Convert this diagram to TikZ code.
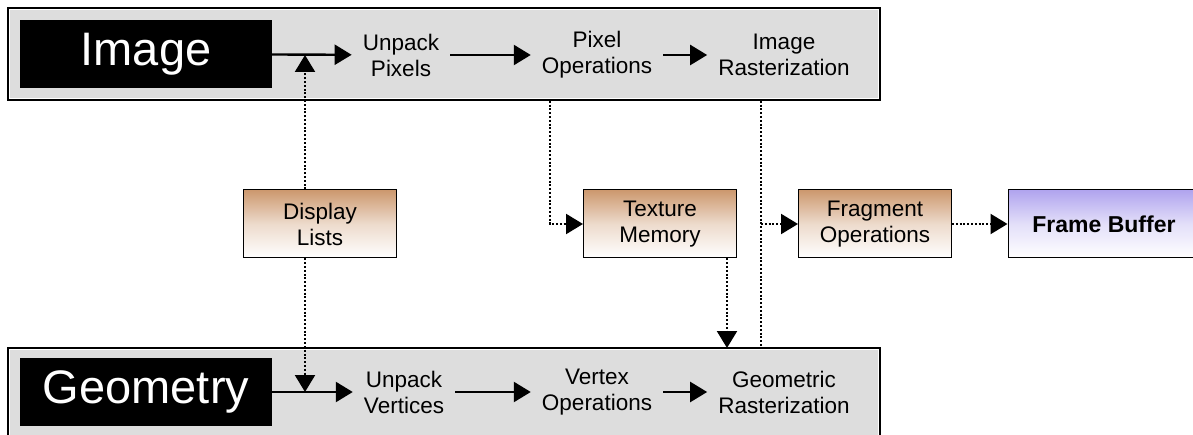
\documentclass[tikz,border=0pt]{standalone}
\usepackage{fontspec}
\setmainfont{Liberation Sans}
\usetikzlibrary{arrows.meta,positioning}
\definecolor{panelgray}{RGB}{221,221,221}
\definecolor{tanbox}{RGB}{204,152,110}
\definecolor{lilac}{RGB}{176,164,238}
\tikzset{
	panel/.style={draw=black, line width=1.6pt, fill=panelgray, minimum width=872pt, minimum height=92pt, inner sep=0pt},
	titlebox/.style={fill=black, text=white, minimum width=252pt, minimum height=68pt, font=\fontsize{47}{47}\selectfont},
	stage/.style={align=center, inner xsep=11pt, inner ysep=2pt, font=\fontsize{22.5}{26}\selectfont},
	store/.style={draw=black, line width=1pt, align=center, minimum width=153pt, minimum height=68pt, font=\fontsize{22.5}{26}\selectfont, top color=tanbox, bottom color=white, middle color=tanbox!35},
	flow/.style={line width=2.4pt, -{Triangle[length=17pt,width=20pt]}},
	feed/.style={line width=2.2pt, dash pattern=on 2pt off 1.8pt},
	feedarrow/.style={feed, -{Triangle[length=17pt,width=20pt]}}
}
\begin{document}
\begin{tikzpicture}[x=1pt,y=-1pt]
		\useasboundingbox (0,0) rectangle (1193,435);
		% two pipeline panels
		\node[panel] (imgpanel) at (444,54) {};
		\node[panel] (geopanel) at (444,394) {};
		\foreach \p in {imgpanel,geopanel}
			\draw[white, line width=0.8pt] ([shift={(2.5pt,-2.5pt)}]\p.north west) rectangle ([shift={(-2.5pt,2.5pt)}]\p.south east);
		\node[titlebox] (imgtitle) at (146,54) {Image};
		\node[titlebox] (geotitle) at (146,392) {Geometry};
		% image path
		\node[stage] (unpackpix) at (401,55) {Unpack\\Pixels};
		\node[stage] (pixelops) at (597,55) {Pixel\\Operations};
		\node[stage] (imgrast) at (784,55) {Image\\Rasterization};
		% geometry path
		\node[stage] (unpackvert) at (404,392) {Unpack\\Vertices};
		\node[stage] (vertexops) at (597,392) {Vertex\\Operations};
		\node[stage] (georast) at (784,392) {Geometric\\Rasterization};
		% boxes in between
		\node[store] (display) at (320,224) {Display\\Lists};
		\node[store] (texmem) at (660,224) {Texture\\Memory};
		\node[store] (fragops) at (875,224) {Fragment\\Operations};
		\node[store, minimum width=192pt, top color=lilac, middle color=lilac!35, font=\fontsize{23}{26}\selectfont\bfseries] (framebuf) at (1104,224) {Frame Buffer};
		\draw[flow] (imgtitle) -- (unpackpix);
		\draw[flow] (unpackpix) -- (pixelops);
		\draw[flow] (pixelops) -- (imgrast);
		\draw[flow] (geotitle) -- (unpackvert);
		\draw[flow] (unpackvert) -- (vertexops);
		\draw[flow] (vertexops) -- (georast);
		% dotted feeds
		\coordinate (dlup) at (305,55);
		\coordinate (dldown) at (305,392);
		\coordinate (pixdrop) at (550,224);
		\coordinate (texdrop) at (727,348);
		\coordinate (rastdrop) at (761,224);
		\draw[feedarrow] (display.north -| dlup) -- (dlup);
		\draw[feedarrow] (display.south -| dldown) -- (dldown);
		\draw[feedarrow] (imgpanel.south -| pixdrop) -- (pixdrop) -- (texmem.west);
		\draw[feedarrow] (texmem.south -| texdrop) -- (texdrop);
		\draw[feed] (imgpanel.south -| rastdrop) -- (geopanel.north -| rastdrop);
		\draw[feedarrow] (rastdrop) -- (fragops.west);
		\draw[feedarrow] (fragops) -- (framebuf);
	\end{tikzpicture}
\end{document}
